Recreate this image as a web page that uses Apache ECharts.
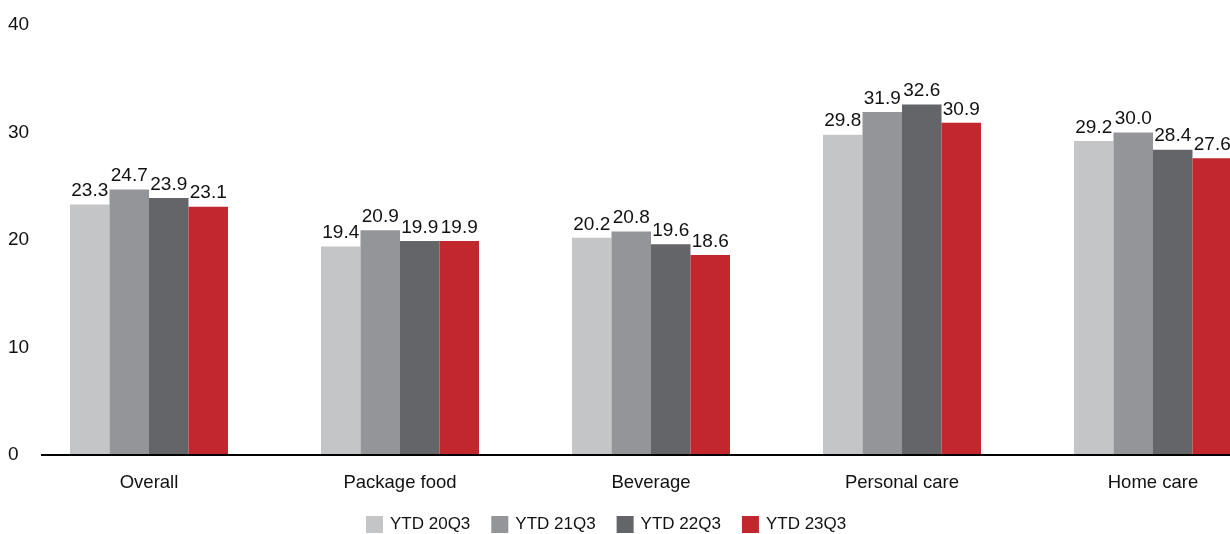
<!DOCTYPE html>
<html>
<head>
<meta charset="utf-8">
<script src="https://cdn.jsdelivr.net/npm/echarts@6/dist/echarts.min.js"></script>
<style>
  html, body { margin: 0; padding: 0; background: #fff; }
  #main { width: 1230px; height: 534px; }
</style>
</head>
<body>
<div id="main"></div>
<script>
const categories = ['Overall', 'Package food', 'Beverage', 'Personal care', 'Home care'];
const ytd20 = [23.3, 19.4, 20.2, 29.8, 29.2];
const ytd21 = [24.7, 20.9, 20.8, 31.9, 30.0];
const ytd22 = [23.9, 19.9, 19.6, 32.6, 28.4];
const ytd23 = [23.1, 19.9, 18.6, 30.9, 27.6];
const seriesNames = ['YTD 20Q3', 'YTD 21Q3', 'YTD 22Q3', 'YTD 23Q3'];
const colors = ['#c4c5c7', '#939598', '#646569', '#c1272d'];

const font = 'Arial, "Liberation Sans", sans-serif';

const chart = echarts.init(document.getElementById('main'));

function makeSeries(name, data, color) {
    return {
        name: name,
        type: 'bar',
        data: data,
        barWidth: 39.5,
        barGap: '0%',
        itemStyle: { color: color },
        label: {
            show: true,
            position: 'top',
            distance: 4,
            color: '#111',
            fontSize: 19,
            fontFamily: font,
            formatter: p => p.value.toFixed(1)
        }
    };
}

chart.setOption({
    animation: false,
    // the source chart is cut off on the right, so the grid runs past the canvas
    grid: { left: 23.5, top: 25, width: 1255, bottom: 79, outerBoundsMode: 'none' },
    legend: {
        left: 366,
        top: 516,
        padding: 0,
        itemWidth: 17,
        itemHeight: 17,
        itemGap: 21,
        icon: 'rect',
        textStyle: { fontSize: 17, fontFamily: font, color: '#111', padding: [0, 0, 0, 2] },
        data: seriesNames
    },
    xAxis: {
        type: 'category',
        data: categories,
        axisLine: { show: false },
        axisTick: { show: false },
        axisLabel: { fontSize: 18.5, fontFamily: font, color: '#111', margin: 18 }
    },
    yAxis: {
        type: 'value',
        min: 0,
        max: 40,
        interval: 10,
        splitLine: { show: false },
        axisLine: { show: false },
        axisTick: { show: false },
        axisLabel: { fontSize: 19, fontFamily: font, color: '#111', align: 'left', margin: 15.5 }
    },
    series: [
        makeSeries(seriesNames[0], ytd20, colors[0]),
        makeSeries(seriesNames[1], ytd21, colors[1]),
        makeSeries(seriesNames[2], ytd22, colors[2]),
        makeSeries(seriesNames[3], ytd23, colors[3])
    ]
});

// baseline starts a bit right of the first category band, as in the source chart
const y0 = chart.convertToPixel({ yAxisIndex: 0 }, 0);
chart.setOption({
    graphic: [{
        type: 'line',
        shape: { x1: 41, y1: y0, x2: 1230, y2: y0 },
        style: { stroke: '#000', lineWidth: 2 },
        z: 10
    }]
});
</script>
</body>
</html>
